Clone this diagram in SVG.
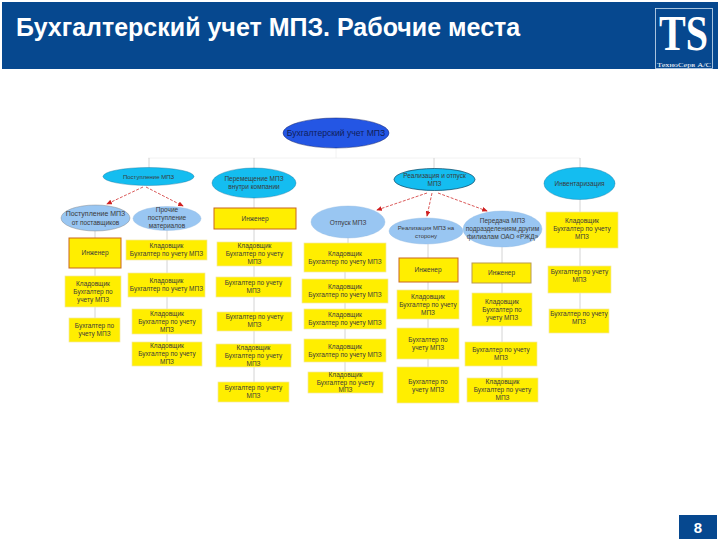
<svg xmlns="http://www.w3.org/2000/svg" width="720" height="540" viewBox="0 0 720 540">
<style>
text{font-family:"Liberation Sans",Arial,sans-serif}
.t{font-size:6.500px;fill:#3a3a3a;text-anchor:middle}
.y{fill:#ffee00;stroke:#f3e9a0;stroke-width:.7}
.b{fill:#ffee00;stroke:#c8661e;stroke-width:1}
.c{fill:#14bdf0;stroke:#0b6f9a;stroke-width:.4}
.l{fill:#99c6f2;stroke:#8fb8e0;stroke-width:.4}
.g{stroke:#c9c9c9;stroke-width:.8;fill:none}
.h{stroke:#efefef;stroke-width:.8;fill:none}
.r{stroke:#d03030;stroke-width:.8;stroke-dasharray:3 1.500;fill:none;marker-end:url(#a)}
.s{font-family:"Liberation Serif",serif}
</style>
<defs><marker id="a" markerWidth="7" markerHeight="6" refX="6" refY="3" orient="auto"><path d="M0 0L7 3L0 6Z" fill="#d02020"/></marker></defs>
<rect width="720" height="540" fill="#fff"/>
<g id="header">
<rect x="2" y="2" width="716" height="67" fill="#06488f"/>
<text x="16" y="36" font-size="25" font-weight="700" fill="#fff">Бухгалтерский учет МПЗ. Рабочие места</text>
<rect x="655.500" y="8.500" width="57" height="60" fill="none" stroke="#cfe0f0" stroke-width=".8"/>
<text class="s" x="659" y="50" font-size="50" font-weight="700" fill="#fff" textLength="49" lengthAdjust="spacingAndGlyphs">TS</text>
<text class="s" x="657" y="67" font-size="7" fill="#fff" textLength="54" lengthAdjust="spacingAndGlyphs">ТехноСерв А/С</text>
</g>
<g id="connectors">
<path class="h" d="M148 158H580M336 148V158"/>
<path class="g" d="M149 158V168M254 158V168M434 158V171M580 158V168"/>
<path class="g" d="M95 231V238M95 268V276M95 307V318M167 230V240M167 260V366M254 198V208M254 229V402M348 238V243M345 272V372M428 244V258M428 282V367M502 247V263M502 283V378M580 199V212M580 248V309"/>
<path class="r" d="M143 187L107 204"/>
<path class="r" d="M146 187L183 206"/>
<path class="r" d="M427 193L377 210"/>
<path class="r" d="M432 193L427 216"/>
<path class="r" d="M438 193L487 211"/>
</g>
<g id="n-root"><ellipse cx="336" cy="133" rx="53" ry="15" fill="#2456e4" stroke="#10206a" stroke-width=".5"/><text class="t" x="336" y="136" style="font-size:8.600px;fill:#10205a">Бухгалтерский учет МПЗ</text></g>
<g id="n-post"><ellipse class="c" cx="148.500" cy="176.500" rx="45.500" ry="9"/><text class="t" x="148.500" y="179" style="font-size:6px">Поступление МПЗ</text></g>
<g id="n-perem"><ellipse class="c" cx="254" cy="183" rx="42" ry="15"/><text class="t" x="254" y="181">Перемещение МПЗ</text><text class="t" x="254" y="189">внутри компании</text></g>
<g id="n-real"><ellipse class="c" cx="434.500" cy="179.500" rx="40.500" ry="11" style="stroke:#06405f;stroke-width:.7"/><text class="t" x="434.500" y="178">Реализация и отпуск</text><text class="t" x="434.500" y="186">МПЗ</text></g>
<g id="n-inv"><ellipse class="c" cx="579.500" cy="183.500" rx="35.500" ry="16"/><text class="t" x="579.500" y="186">Инвентаризация</text></g>
<g id="n-postav"><ellipse class="l" cx="95.500" cy="218" rx="34.500" ry="13" style="stroke:#777"/><text class="t" x="95.500" y="216" style="font-size:7px">Поступление МПЗ</text><text class="t" x="95.500" y="224.500">от поставщиков</text></g>
<g id="n-proch"><ellipse class="l" cx="167" cy="218.500" rx="34" ry="12"/><text class="t" x="167" y="211.500">Прочие</text><text class="t" x="167" y="219.500">поступление</text><text class="t" x="167" y="227.500">материалов</text></g>
<g id="n-otp"><ellipse class="l" cx="348" cy="222" rx="37" ry="16"/><text class="t" x="348" y="224.500">Отпуск МПЗ</text></g>
<g id="n-storona"><ellipse class="l" cx="426" cy="231" rx="37" ry="13"/><text class="t" x="426" y="229.500" style="font-size:6px">Реализация МПЗ на</text><text class="t" x="426" y="237.500" style="font-size:6px">сторону</text></g>
<g id="n-pered"><ellipse class="l" cx="502.500" cy="229" rx="39.500" ry="18"/><text class="t" x="502.500" y="223">Передача МПЗ</text><text class="t" x="502.500" y="231">подразделениям,другим</text><text class="t" x="502.500" y="239">филиалам ОАО «РЖД»</text></g>
<g id="n-c3i"><rect class="b" x="214" y="208" width="82" height="21"/><text class="t" x="255" y="221">Инженер</text></g>
<g id="n-c1a"><rect class="b" x="69" y="238" width="52" height="30"/><text class="t" x="95" y="255">Инженер</text></g>
<g id="n-c1b"><rect class="y" x="65" y="276" width="56" height="31"/><text class="t" x="93" y="286">Кладовщик</text><text class="t" x="93" y="294">Бухгалтер по</text><text class="t" x="93" y="302">учету МПЗ</text></g>
<g id="n-c1c"><rect class="y" x="69" y="318" width="51" height="24"/><text class="t" x="94.500" y="328">Бухгалтер по</text><text class="t" x="94.500" y="336">учету МПЗ</text></g>
<g id="n-c2a"><rect class="y" x="126" y="240" width="81" height="20"/><text class="t" x="166.500" y="248">Кладовщик</text><text class="t" x="166.500" y="256">Бухгалтер по учету МПЗ</text></g>
<g id="n-c2b"><rect class="y" x="128" y="273" width="77" height="24"/><text class="t" x="166.500" y="283">Кладовщик</text><text class="t" x="166.500" y="291">Бухгалтер по учету МПЗ</text></g>
<g id="n-c2c"><rect class="y" x="132" y="309" width="70" height="25"/><text class="t" x="167" y="316">Кладовщик</text><text class="t" x="167" y="324">Бухгалтер по учету</text><text class="t" x="167" y="332">МПЗ</text></g>
<g id="n-c2d"><rect class="y" x="132" y="342" width="70" height="24"/><text class="t" x="167" y="348">Кладовщик</text><text class="t" x="167" y="356">Бухгалтер по учету</text><text class="t" x="167" y="364">МПЗ</text></g>
<g id="n-c3a"><rect class="y" x="217" y="242" width="75" height="24"/><text class="t" x="254.500" y="248">Кладовщик</text><text class="t" x="254.500" y="256">Бухгалтер по учету</text><text class="t" x="254.500" y="264">МПЗ</text></g>
<g id="n-c3b"><rect class="y" x="216" y="277" width="75" height="20"/><text class="t" x="253.500" y="285">Бухгалтер по учету</text><text class="t" x="253.500" y="293">МПЗ</text></g>
<g id="n-c3c"><rect class="y" x="217" y="312" width="75" height="19"/><text class="t" x="254.500" y="319">Бухгалтер по учету</text><text class="t" x="254.500" y="327">МПЗ</text></g>
<g id="n-c3d"><rect class="y" x="216" y="344" width="75" height="23"/><text class="t" x="253.500" y="350">Кладовщик</text><text class="t" x="253.500" y="358">Бухгалтер по учету</text><text class="t" x="253.500" y="366">МПЗ</text></g>
<g id="n-c3e"><rect class="y" x="218" y="382" width="71" height="20"/><text class="t" x="253.500" y="390">Бухгалтер по учету</text><text class="t" x="253.500" y="398">МПЗ</text></g>
<g id="n-c4a"><rect class="y" x="304" y="243" width="82" height="29"/><text class="t" x="345" y="256">Кладовщик</text><text class="t" x="345" y="264">Бухгалтер по учету МПЗ</text></g>
<g id="n-c4b"><rect class="y" x="302" y="279" width="86" height="24"/><text class="t" x="345" y="289">Кладовщик</text><text class="t" x="345" y="297">Бухгалтер по учету МПЗ</text></g>
<g id="n-c4c"><rect class="y" x="304" y="309" width="82" height="20"/><text class="t" x="345" y="317">Кладовщик</text><text class="t" x="345" y="325">Бухгалтер по учету МПЗ</text></g>
<g id="n-c4d"><rect class="y" x="304" y="339" width="82" height="23"/><text class="t" x="345" y="349">Кладовщик</text><text class="t" x="345" y="357">Бухгалтер по учету МПЗ</text></g>
<g id="n-c4e"><rect class="y" x="308" y="372" width="75" height="21"/><text class="t" x="345.500" y="377">Кладовщик</text><text class="t" x="345.500" y="385">Бухгалтер по учету</text><text class="t" x="345.500" y="392">МПЗ</text></g>
<g id="n-c5a"><rect class="b" x="399" y="258" width="59" height="24"/><text class="t" x="428" y="272">Инженер</text></g>
<g id="n-c5b"><rect class="y" x="397" y="290" width="62" height="29"/><text class="t" x="428" y="299">Кладовщик</text><text class="t" x="428" y="307">Бухгалтер по учету</text><text class="t" x="428" y="315">МПЗ</text></g>
<g id="n-c5c"><rect class="y" x="397" y="328" width="62" height="31"/><text class="t" x="428" y="342">Бухгалтер по</text><text class="t" x="428" y="350">учету МПЗ</text></g>
<g id="n-c5d"><rect class="y" x="397" y="367" width="62" height="36"/><text class="t" x="428" y="384">Бухгалтер по</text><text class="t" x="428" y="392">учету МПЗ</text></g>
<g id="n-c6a"><rect class="b" x="472" y="263" width="59" height="20" style="stroke:#b89a50"/><text class="t" x="501.500" y="275">Инженер</text></g>
<g id="n-c6b"><rect class="y" x="472" y="293" width="60" height="33"/><text class="t" x="502" y="304">Кладовщик</text><text class="t" x="502" y="312">Бухгалтер по</text><text class="t" x="502" y="320">учету МПЗ</text></g>
<g id="n-c6c"><rect class="y" x="465" y="342" width="72" height="24"/><text class="t" x="501" y="352">Бухгалтер по учету</text><text class="t" x="501" y="360">МПЗ</text></g>
<g id="n-c6d"><rect class="y" x="467" y="378" width="71" height="24"/><text class="t" x="502.500" y="384">Кладовщик</text><text class="t" x="502.500" y="392">Бухгалтер по учету</text><text class="t" x="502.500" y="400">МПЗ</text></g>
<g id="n-c7a"><rect class="y" x="546" y="212" width="72" height="36"/><text class="t" x="582" y="223">Кладовщик</text><text class="t" x="582" y="231">Бухгалтер по учету</text><text class="t" x="582" y="239">МПЗ</text></g>
<g id="n-c7b"><rect class="y" x="548" y="266" width="63" height="27"/><text class="t" x="579.500" y="274">Бухгалтер по учету</text><text class="t" x="579.500" y="282">МПЗ</text></g>
<g id="n-c7c"><rect class="y" x="549" y="309" width="60" height="24"/><text class="t" x="579" y="316">Бухгалтер по учету</text><text class="t" x="579" y="324">МПЗ</text></g>
<g id="page"><rect x="679" y="515" width="38" height="24" fill="#06488f"/><text x="698" y="533" font-size="15" font-weight="700" fill="#fff" text-anchor="middle">8</text></g>
</svg>
